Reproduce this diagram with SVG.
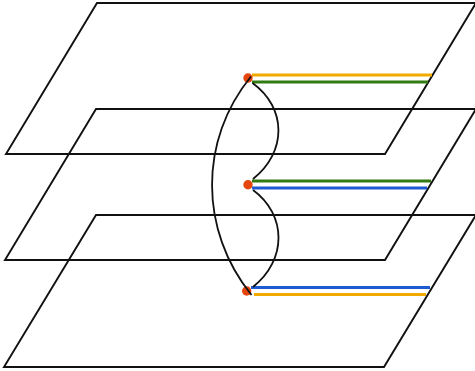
<svg xmlns="http://www.w3.org/2000/svg" width="475" height="371" viewBox="0 0 475 371">
<style>
.plane{fill:none;stroke:#111;stroke-width:1.9;stroke-linejoin:miter}
.edge{fill:none;stroke-width:3.2}
.o{stroke:#F2A900}.g{stroke:#337A12}.b{stroke:#1C5BD0}
.dot{fill:#E4460E}
.curve{fill:none;stroke:#111;stroke-width:1.8}
</style>
<g id="plane-top"><polygon class="plane" points="97,3 476,3 385,154 6,154"/></g>
<g id="plane-middle"><polygon class="plane" points="96,109 476,109 385,260 5,260"/></g>
<g id="plane-bottom"><polygon class="plane" points="96,215 476,215 384,367 4,367"/></g>
<g id="lines-top">
<line class="edge o" x1="252" y1="75" x2="432" y2="75"/>
<line class="edge g" x1="252" y1="82" x2="428" y2="82"/>
</g>
<g id="lines-middle">
<line class="edge g" x1="252" y1="181" x2="431" y2="181"/>
<line class="edge b" x1="252" y1="188" x2="427" y2="188"/>
</g>
<g id="lines-bottom">
<line class="edge b" x1="251" y1="287.5" x2="430" y2="287.5"/>
<line class="edge o" x1="254" y1="294.5" x2="426" y2="294.5"/>
</g>
<g id="node-top"><circle class="dot" cx="248" cy="78" r="4.7"/></g>
<g id="node-middle"><circle class="dot" cx="248" cy="184.7" r="4.7"/></g>
<g id="node-bottom"><circle class="dot" cx="246.7" cy="291" r="4.7"/></g>
<g id="connectors">
<path class="curve" d="M251,76.5 C199,140 199,230 251.5,295"/>
<path class="curve" d="M252.5,83 C287,108 287,152 253,179"/>
<path class="curve" d="M253,190 C287,215 287,260 253,287"/>
</g>
</svg>
